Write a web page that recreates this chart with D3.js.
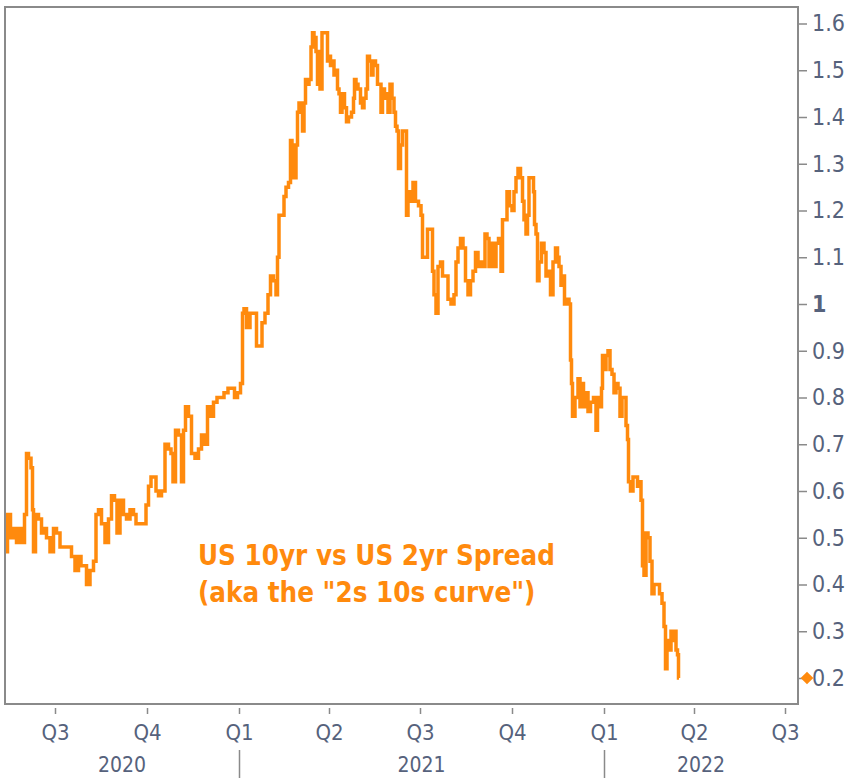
<!DOCTYPE html>
<html>
<head>
<meta charset="utf-8">
<script src="https://cdnjs.cloudflare.com/ajax/libs/d3/7.8.5/d3.min.js"></script>
<style>
  body { margin: 0; background: #fff; }
  svg { display: block; }
  .axis text { font-family: "DejaVu Sans Condensed", "Liberation Sans", sans-serif; fill: #56627c; }
</style>
</head>
<body>
<svg width="848" height="778"></svg>
<script>
// US 10yr minus US 2yr yield, daily close
var dates2020 = ["2020-05-13","2020-05-16","2020-05-19","2020-05-22","2020-05-25","2020-05-28","2020-05-30",
  "2020-06-02","2020-06-03","2020-06-06","2020-06-08","2020-06-09","2020-06-10","2020-06-13","2020-06-16",
  "2020-06-19","2020-06-21","2020-06-24","2020-06-28","2020-07-01","2020-07-04","2020-07-08","2020-07-11",
  "2020-07-13","2020-07-16","2020-07-19","2020-07-23","2020-07-26","2020-07-28","2020-07-31","2020-08-03",
  "2020-08-07","2020-08-10","2020-08-12","2020-08-15","2020-08-18","2020-08-22","2020-08-25","2020-08-28",
  "2020-08-31","2020-09-02","2020-09-06","2020-09-09","2020-09-12","2020-09-16","2020-09-19","2020-09-21",
  "2020-09-26","2020-09-29","2020-10-01","2020-10-04","2020-10-06","2020-10-09","2020-10-11","2020-10-14",
  "2020-10-17","2020-10-21","2020-10-24","2020-10-26","2020-10-28","2020-10-31","2020-11-03","2020-11-06",
  "2020-11-07","2020-11-10","2020-11-13","2020-11-16","2020-11-20","2020-11-23","2020-11-26","2020-11-29",
  "2020-12-02","2020-12-05","2020-12-08","2020-12-12","2020-12-15","2020-12-19","2020-12-23","2020-12-26",
  "2020-12-29"];
var spread2020 = [0.47,0.55,0.50,0.52,0.49,0.52,0.49,
  0.55,0.68,0.67,0.65,0.56,0.47,0.55,0.54,
  0.51,0.52,0.50,0.47,0.52,0.51,0.48,0.48,
  0.48,0.48,0.46,0.43,0.46,0.44,0.44,0.40,
  0.43,0.45,0.55,0.56,0.53,0.49,0.54,0.59,
  0.58,0.51,0.58,0.55,0.54,0.56,0.55,0.53,
  0.53,0.53,0.57,0.61,0.63,0.63,0.60,0.59,
  0.60,0.70,0.69,0.68,0.62,0.73,0.72,0.62,
  0.73,0.78,0.76,0.68,0.67,0.69,0.72,0.70,
  0.78,0.76,0.79,0.80,0.80,0.81,0.82,0.82,
  0.80];

var dates2021 = ["2021-01-01","2021-01-04","2021-01-05","2021-01-07","2021-01-10","2021-01-14","2021-01-17",
  "2021-01-20","2021-01-23","2021-01-25","2021-01-29","2021-01-31","2021-02-03","2021-02-06","2021-02-08",
  "2021-02-09","2021-02-11","2021-02-14","2021-02-16","2021-02-18","2021-02-21","2021-02-22","2021-02-24",
  "2021-02-26","2021-02-28","2021-03-01","2021-03-03","2021-03-05","2021-03-06","2021-03-08","2021-03-09",
  "2021-03-11","2021-03-13","2021-03-15","2021-03-16","2021-03-18","2021-03-20","2021-03-21","2021-03-22",
  "2021-03-24","2021-03-26","2021-03-28","2021-03-30","2021-03-31","2021-04-01","2021-04-04","2021-04-05",
  "2021-04-07","2021-04-09","2021-04-10","2021-04-12","2021-04-13","2021-04-15","2021-04-18","2021-04-19",
  "2021-04-22","2021-04-25","2021-04-26","2021-04-27","2021-04-29","2021-05-01","2021-05-04","2021-05-05",
  "2021-05-07","2021-05-09","2021-05-10","2021-05-13","2021-05-14","2021-05-16","2021-05-19","2021-05-20",
  "2021-05-22","2021-05-24","2021-05-25","2021-05-28","2021-05-29","2021-05-31","2021-06-02","2021-06-04",
  "2021-06-06","2021-06-07","2021-06-09","2021-06-10","2021-06-13","2021-06-14","2021-06-17","2021-06-18",
  "2021-06-20","2021-06-23","2021-06-25","2021-06-28","2021-07-01","2021-07-03","2021-07-04","2021-07-08",
  "2021-07-09","2021-07-13","2021-07-14","2021-07-16","2021-07-18","2021-07-20","2021-07-23","2021-07-24",
  "2021-07-28","2021-07-30","2021-08-03","2021-08-05","2021-08-07","2021-08-09","2021-08-12","2021-08-14",
  "2021-08-17","2021-08-19","2021-08-22","2021-08-24","2021-08-27","2021-08-29","2021-09-01","2021-09-03",
  "2021-09-05","2021-09-07","2021-09-09","2021-09-12","2021-09-14","2021-09-16","2021-09-19","2021-09-21",
  "2021-09-22","2021-09-25","2021-09-27","2021-09-30","2021-10-02","2021-10-04","2021-10-06","2021-10-08",
  "2021-10-11","2021-10-12","2021-10-14","2021-10-16","2021-10-17","2021-10-19","2021-10-22","2021-10-23",
  "2021-10-24","2021-10-26","2021-10-27","2021-10-29","2021-11-01","2021-11-03","2021-11-05","2021-11-07",
  "2021-11-10","2021-11-12","2021-11-15","2021-11-16","2021-11-18","2021-11-20","2021-11-21","2021-11-24",
  "2021-11-26","2021-11-28","2021-11-29","2021-11-30","2021-12-01","2021-12-05","2021-12-07","2021-12-09",
  "2021-12-11","2021-12-12","2021-12-15","2021-12-17","2021-12-20","2021-12-23","2021-12-25","2021-12-26",
  "2021-12-29","2021-12-30","2021-12-31"];
var spread2021 = [0.81,0.83,0.98,0.99,0.95,0.98,0.98,
  0.91,0.91,0.96,0.98,1.02,1.06,1.05,1.02,
  1.10,1.19,1.19,1.23,1.25,1.26,1.35,1.34,
  1.27,1.34,1.41,1.43,1.43,1.37,1.43,1.48,
  1.47,1.48,1.55,1.58,1.57,1.54,1.47,1.54,
  1.46,1.58,1.58,1.58,1.52,1.53,1.51,1.52,
  1.49,1.50,1.46,1.45,1.41,1.45,1.42,1.39,
  1.40,1.41,1.44,1.48,1.47,1.46,1.43,1.42,
  1.44,1.46,1.53,1.52,1.49,1.52,1.51,1.47,
  1.47,1.41,1.46,1.44,1.45,1.41,1.47,1.44,
  1.41,1.38,1.37,1.29,1.34,1.37,1.37,1.19,
  1.24,1.22,1.26,1.22,1.21,1.19,1.10,1.10,
  1.16,1.16,1.07,1.02,0.98,1.08,1.09,1.06,
  1.06,1.01,1.00,1.02,1.09,1.12,1.14,1.12,
  1.05,1.02,1.05,1.07,1.11,1.08,1.09,1.08,
  1.15,1.14,1.08,1.13,1.08,1.13,1.14,1.07,
  1.18,1.18,1.24,1.21,1.20,1.24,1.27,1.29,
  1.27,1.22,1.18,1.15,1.19,1.27,1.27,1.24,
  1.17,1.15,1.05,1.09,1.13,1.11,1.06,1.07,
  1.02,1.09,1.12,1.10,1.08,1.04,1.06,1.00,
  1.01,1.00,0.88,0.83,0.76,0.80,0.84,0.78,
  0.83,0.78,0.81,0.77,0.79,0.80,0.73,0.80,
  0.78,0.82,0.89];

var dates2022 = ["2022-01-02","2022-01-04","2022-01-06","2022-01-08","2022-01-10","2022-01-12","2022-01-14",
  "2022-01-16","2022-01-18","2022-01-20","2022-01-22","2022-01-24","2022-01-25","2022-01-26","2022-01-29",
  "2022-01-31","2022-02-03","2022-02-04","2022-02-06","2022-02-08","2022-02-09","2022-02-11","2022-02-13",
  "2022-02-15","2022-02-17","2022-02-19","2022-02-21","2022-02-24","2022-02-27","2022-03-01","2022-03-03",
  "2022-03-04","2022-03-06","2022-03-08","2022-03-10","2022-03-11","2022-03-13","2022-03-15","2022-03-16",
  "2022-03-17"];
var spread2022 = [0.86,0.89,0.90,0.86,0.85,0.81,0.83,
  0.82,0.76,0.80,0.80,0.74,0.71,0.62,0.60,
  0.63,0.63,0.61,0.62,0.58,0.44,0.42,0.51,
  0.50,0.45,0.38,0.40,0.40,0.38,0.36,0.31,
  0.22,0.28,0.26,0.30,0.28,0.30,0.26,0.25,
  0.20];

var yTicks = [0.2, 0.3, 0.4, 0.5, 0.6, 0.7, 0.8, 0.9, 1, 1.1, 1.2, 1.3, 1.4, 1.5, 1.6];
var quarterDates = ["2020-07-01","2020-10-01","2021-01-01","2021-04-01","2021-07-01","2021-10-01","2022-01-01","2022-04-01","2022-07-01"];
var quarterLabels = ["Q3","Q4","Q1","Q2","Q3","Q4","Q1","Q2","Q3"];
var yearLabels = ["2020", "2021", "2022"];
var yearStarts = ["2021-01-01", "2022-01-01"];
var noteLines = ["US 10yr vs US 2yr Spread", "(aka the \"2s 10s curve\")"];

var parse = d3.timeParse("%Y-%m-%d");
var allValues = spread2020.concat(spread2021, spread2022);
var series = dates2020.concat(dates2021, dates2022).map(function(d, i) {
  return { date: parse(d), value: allValues[i] };
});

var orange = "#ff8a0d";
var frame = { left: 5, right: 798, top: 7, bottom: 704 };

var svg = d3.select("svg");

var x = d3.scaleTime()
  .domain([parse("2020-05-12"), parse("2022-07-14")])
  .range([frame.left, frame.right]);
var y = d3.scaleLinear()
  .domain([0.2, 1.6])
  .range([678, 23.5]);

// plot frame
svg.append("rect")
  .attr("x", frame.left)
  .attr("y", frame.top)
  .attr("width", frame.right - frame.left)
  .attr("height", frame.bottom - frame.top)
  .attr("fill", "none")
  .attr("stroke", "#8a8a8a")
  .attr("stroke-width", 2);

svg.append("clipPath").attr("id", "plot")
  .append("rect")
  .attr("x", frame.left + 1)
  .attr("y", frame.top + 1)
  .attr("width", frame.right - frame.left - 2)
  .attr("height", frame.bottom - frame.top - 2);

// daily closes look blocky at ~1px per day, so draw it stepwise
var line = d3.line()
  .curve(d3.curveStep)
  .x(function(d) { return x(d.date); })
  .y(function(d) { return y(d.value); });

svg.append("path")
  .datum(series)
  .attr("clip-path", "url(#plot)")
  .attr("fill", "none")
  .attr("stroke", orange)
  .attr("stroke-width", 3.5)
  .attr("stroke-linejoin", "miter")
  .attr("d", line);

// right value axis
var yAxis = svg.append("g")
  .attr("class", "axis")
  .attr("transform", "translate(" + frame.right + ",0)")
  .call(d3.axisRight(y).tickValues(yTicks).tickFormat(d3.format("~g")).tickSize(9).tickPadding(5));
yAxis.select(".domain").remove();
yAxis.selectAll("line").attr("stroke", "#8a8a8a").attr("stroke-width", 1.5);
yAxis.selectAll("text")
  .style("font-size", "23px")
  .style("font-weight", function(d) { return d === 1 ? "bold" : "normal"; });

// last value marker
var last = series[series.length - 1];
svg.append("path")
  .attr("d", d3.symbol(d3.symbolSquare, 80))
  .attr("transform", "translate(" + (frame.right + 9) + "," + y(last.value) + ") rotate(45)")
  .attr("fill", orange);

// quarter axis
var xAxis = svg.append("g")
  .attr("class", "axis")
  .attr("transform", "translate(0," + (frame.bottom + 4) + ")")
  .call(d3.axisBottom(x)
    .tickValues(quarterDates.map(parse))
    .tickFormat(function(d, i) { return quarterLabels[i]; })
    .tickSize(6).tickPadding(10));
xAxis.select(".domain").remove();
xAxis.selectAll("line").attr("stroke", "#8a8a8a").attr("stroke-width", 1.5);
xAxis.selectAll("text").style("font-size", "22px");

// year row
var bounds = [x.domain()[0]].concat(yearStarts.map(parse), [x.domain()[1]]);
svg.append("g").selectAll("line")
  .data(yearStarts)
  .enter().append("line")
  .attr("x1", function(d) { return Math.round(x(parse(d))) + 0.5; })
  .attr("x2", function(d) { return Math.round(x(parse(d))) + 0.5; })
  .attr("y1", 750)
  .attr("y2", 778)
  .attr("stroke", "#8a8a8a")
  .attr("stroke-width", 1.5);

svg.append("g").attr("class", "axis").selectAll("text")
  .data(yearLabels)
  .enter().append("text")
  .attr("x", function(d, i) { return (x(bounds[i]) + x(bounds[i + 1])) / 2; })
  .attr("y", 772)
  .attr("text-anchor", "middle")
  .style("font-size", "21px")
  .text(function(d) { return d; });

// annotation
svg.append("g").selectAll("text")
  .data(noteLines)
  .enter().append("text")
  .attr("x", 198)
  .attr("y", function(d, i) { return 565 + i * 37; })
  .attr("fill", orange)
  .style("font-family", "\"DejaVu Sans Condensed\", \"DejaVu Sans\", sans-serif")
  .style("font-weight", "bold")
  .style("font-size", "27.5px")
  .text(function(d) { return d; });
</script>
</body>
</html>
